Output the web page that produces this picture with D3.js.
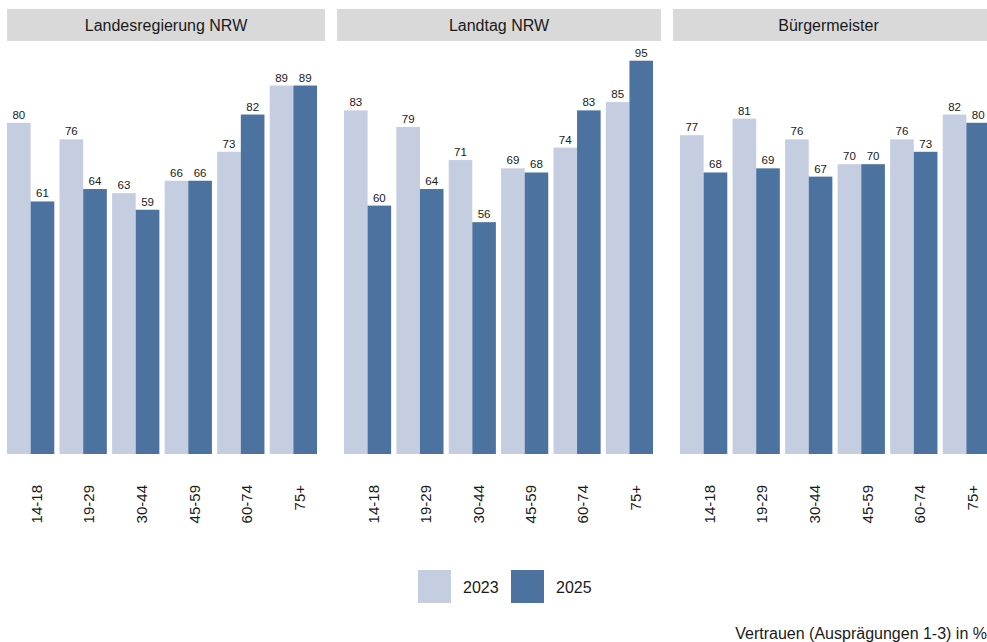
<!DOCTYPE html>
<html>
<head>
<meta charset="utf-8">
<script src="https://cdn.jsdelivr.net/npm/d3@7"></script>
<style>
  body { margin: 0; background: #fff; }
  svg { font-family: "Liberation Sans", Arial, sans-serif; }
</style>
</head>
<body>
<div id="chart"></div>
<script>
const panels = ['Landesregierung NRW', 'Landtag NRW', 'Bürgermeister'];
const ageGroups = ['14-18', '19-29', '30-44', '45-59', '60-74', '75+'];
const years = ['2023', '2025'];
// values per panel, per age group
const values2023 = [
    [80, 76, 63, 66, 73, 89],
    [83, 79, 71, 69, 74, 85],
    [77, 81, 76, 70, 76, 82]
];
const values2025 = [
    [61, 64, 59, 66, 82, 89],
    [60, 64, 56, 68, 83, 95],
    [68, 69, 67, 70, 73, 80]
];
const caption = 'Vertrauen (Ausprägungen 1-3) in %';

const WIDTH = 987, HEIGHT = 642;
const color = d3.scaleOrdinal().domain(years).range(['#c5cde0', '#4c72a0']);

// header box and bar range for each panel
const LAYOUT = [
    { hx0: 7, hx1: 325, bx0: 7, bx1: 317 },
    { hx0: 337, hx1: 661, bx0: 344, bx1: 653 },
    { hx0: 673, hx1: 997, bx0: 680, bx1: 990 }
];

const svg = d3.select('#chart')
    .append('svg')
    .attr('width', WIDTH)
    .attr('height', HEIGHT);

const yScale = d3.scaleLinear()
    .domain([0, 100])
    .range([454, 40]);

panels.forEach((name, i) => {
    const lay = LAYOUT[i];
    const g = svg.append('g').attr('class', 'panel');

    // Header strip
    g.append('rect')
        .attr('x', lay.hx0)
        .attr('y', 9)
        .attr('width', lay.hx1 - lay.hx0)
        .attr('height', 32)
        .attr('fill', '#d9d9d9');
    g.append('text')
        .attr('x', (lay.hx0 + Math.min(lay.hx1, WIDTH + 7)) / 2 - (i === 2 ? 5 : 0))
        .attr('y', 25)
        .attr('dy', '0.35em')
        .attr('text-anchor', 'middle')
        .attr('font-size', '16px')
        .attr('fill', '#1a1a1a')
        .text(name);

    const x0 = d3.scaleBand()
        .domain(ageGroups)
        .range([lay.bx0, lay.bx1])
        .paddingInner(0.1)
        .paddingOuter(0);
    const x1 = d3.scaleBand()
        .domain(years)
        .range([0, x0.bandwidth()]);

    const rows = ageGroups.map((a, j) => ({
        age: a,
        vals: [
            { year: '2023', value: values2023[i][j] },
            { year: '2025', value: values2025[i][j] }
        ]
    }));

    const groups = g.selectAll('g.group')
        .data(rows)
        .join('g')
            .attr('class', 'group')
            .attr('transform', d => `translate(${x0(d.age)},0)`);

    groups.selectAll('rect')
        .data(d => d.vals)
        .join('rect')
            .attr('x', d => x1(d.year))
            .attr('y', d => yScale(d.value))
            .attr('width', x1.bandwidth())
            .attr('height', d => yScale(0) - yScale(d.value))
            .attr('fill', d => color(d.year));

    groups.selectAll('text.val')
        .data(d => d.vals)
        .join('text')
            .attr('class', 'val')
            .attr('x', d => x1(d.year) + x1.bandwidth() / 2)
            .attr('y', d => yScale(d.value) - 4)
            .attr('text-anchor', 'middle')
            .attr('font-size', '11.5px')
            .attr('fill', '#1a1a1a')
            .text(d => d.value);

    // rotated age labels
    g.selectAll('text.age')
        .data(ageGroups)
        .join('text')
            .attr('class', 'age')
            .attr('transform', d => `translate(${x0(d) + x0.bandwidth() / 2 + 6},485) rotate(-90)`)
            .attr('text-anchor', 'end')
            .attr('dy', '0.35em')
            .attr('font-size', '15px')
            .attr('fill', '#1a1a1a')
            .text(d => d);
});

// Legend
const legend = svg.append('g').attr('class', 'legend');
const lx = d3.scaleOrdinal().domain(years).range([418, 511]);
legend.selectAll('rect')
    .data(years)
    .join('rect')
        .attr('x', d => lx(d))
        .attr('y', 570)
        .attr('width', 33)
        .attr('height', 33)
        .attr('fill', d => color(d));
legend.selectAll('text')
    .data(years)
    .join('text')
        .attr('x', d => lx(d) + 45)
        .attr('y', 587)
        .attr('dy', '0.35em')
        .attr('font-size', '16px')
        .attr('fill', '#1a1a1a')
        .text(d => d);

// Caption
svg.append('text')
    .attr('x', 987)
    .attr('y', 633)
    .attr('dy', '0.35em')
    .attr('text-anchor', 'end')
    .attr('font-size', '16px')
    .attr('fill', '#1a1a1a')
    .text(caption);
</script>
</body>
</html>
